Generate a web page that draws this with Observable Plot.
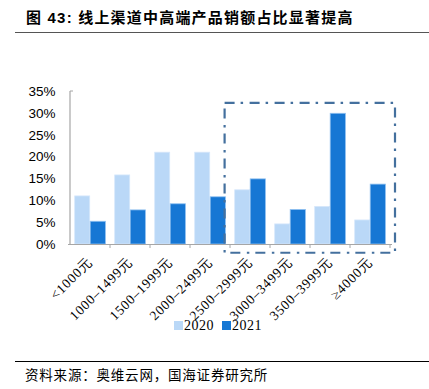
<!DOCTYPE html>
<html><head><meta charset="utf-8">
<script src="https://cdn.jsdelivr.net/npm/d3@7"></script>
<script src="https://cdn.jsdelivr.net/npm/@observablehq/plot@0.6"></script>
<style>
html,body{margin:0;padding:0;background:#fff;}
#wrap{position:relative;width:429px;height:389px;overflow:hidden;}
.abs{position:absolute;white-space:nowrap;}
</style></head>
<body><div id="wrap"></div>
<script>
const title = "图 43：线上渠道中高端产品销额占比显著提高";
const source = "资料来源：奥维云网，国海证券研究所";
const categories = ["<1000元","1000–1499元","1500–1999元","2000–2499元","2500–2999元","3000–3499元","3500–3999元","≥4000元"];
const series = ["2020","2021"];
const values2020 = [0.110, 0.158, 0.210, 0.210, 0.124, 0.046, 0.086, 0.055];
const values2021 = [0.052, 0.078, 0.092, 0.108, 0.149, 0.079, 0.299, 0.137];
const yTicks = [0, 0.05, 0.10, 0.15, 0.20, 0.25, 0.30, 0.35];
const highlightCats = ["2500–2999元", "≥4000元"];
const highlightRange = [-0.02, 0.323];

const lightC = "#bad8f7", darkC = "#1677d4", boxC = "#44709e";
const d20 = categories.map((c,i)=>({cat:c, v:values2020[i]}));
const d21 = categories.map((c,i)=>({cat:c, v:values2021[i]}));

const W = 429, H = 389;
const plot = Plot.plot({
  width: W, height: H,
  marginLeft: 68, marginRight: 37, marginTop: 91, marginBottom: 145,
  style: {background: "transparent", overflow: "visible"},
  x: {domain: categories, padding: 0, axis: null},
  y: {domain: [0, 0.35], axis: null},
  marks: [
    Plot.axisY({ticks: yTicks, tickFormat: d => Math.round(d*100) + "%", tickSize: 0, tickPadding: 13, label: null,
      fontSize: 13.5, fontFamily: "Liberation Sans, Arial, sans-serif", fill: "#000"}),
    Plot.axisX({tickSize: 0, tickRotate: -45, tickPadding: 15, fontSize: 13.5, label: null, letterSpacing: "0.8px",
      fontFamily: "Liberation Serif, Times New Roman, serif", fill: "#000"}),
    Plot.barY(d20, {x: "cat", y: "v", fill: lightC, stroke: "#d6e7fb", strokeWidth: 0.8, insetLeft: 4.7, insetRight: 20.3}),
    Plot.barY(d21, {x: "cat", y: "v", fill: darkC, stroke: "#8fc0f0", strokeWidth: 0.8, insetLeft: 20.2, insetRight: 4.6}),
    Plot.ruleY([0], {stroke: "#a6a6a6", strokeWidth: 1.2})
  ]
});
const wrap = document.getElementById("wrap");
wrap.appendChild(plot);
plot.style.position = "absolute"; plot.style.left = "0"; plot.style.top = "0";
d3.select(plot).selectAll("[aria-label='x-axis tick label'] text, [aria-label='x-axis tick label']").style("letter-spacing", "0.8px");

// extras derived from library scales
const sx = plot.scale("x"), sy = plot.scale("y");
const bw = sx.bandwidth;
const svg = d3.select(plot);
const g = svg.append("g");
const x0 = sx.apply(categories[0]);
g.append("line").attr("x1", x0).attr("x2", x0).attr("y1", sy.apply(0)).attr("y2", sy.apply(0.35))
  .attr("stroke", "#a6a6a6").attr("stroke-width", 1.2);
g.append("line").attr("x1", x0).attr("x2", x0 + 3).attr("y1", sy.apply(0.35)).attr("y2", sy.apply(0.35))
  .attr("stroke", "#a6a6a6").attr("stroke-width", 1);
categories.forEach(c => {
  const xb = sx.apply(c) + bw;
  g.append("line").attr("x1", xb).attr("x2", xb).attr("y1", sy.apply(0)).attr("y2", sy.apply(0) + 4)
    .attr("stroke", "#a6a6a6").attr("stroke-width", 1);
});
const bx1 = sx.apply(highlightCats[0]) - 5.4, bx2 = sx.apply(highlightCats[1]) + bw + 5;
const by1 = sy.apply(highlightRange[1]), by2 = sy.apply(highlightRange[0]);
g.append("rect").attr("x", bx1).attr("y", by1).attr("width", bx2 - bx1).attr("height", by2 - by1)
  .attr("fill", "none").attr("stroke", boxC).attr("stroke-width", 2.2)
  .attr("stroke-dasharray", "10,6,2.5,6.5");

function addDiv(html, css){ const d = document.createElement("div"); d.className = "abs"; d.innerHTML = html; Object.assign(d.style, css); wrap.appendChild(d); return d; }
addDiv(title.replace("：", ": "), {left: "26px", top: "6px", fontSize: "15px", fontWeight: "bold", letterSpacing: "1.2px",
  fontFamily: "Liberation Sans, 'Noto Sans CJK SC', sans-serif", color: "#000"});
addDiv("", {left: "15px", top: "32px", width: "414px", height: "0", borderTop: "1.5px solid #555"});
const legend = addDiv("", {left: "174px", top: "318px", fontSize: "14px", letterSpacing: "0.5px", fontFamily: "Liberation Serif, 'Times New Roman', serif", color: "#000"});
series.forEach((s, i) => {
  const sp = document.createElement("span");
  sp.style.marginRight = i === 0 ? "8px" : "0";
  sp.innerHTML = `<span style="display:inline-block;width:9px;height:9px;background:${i===0?lightC:darkC};margin-right:1px;vertical-align:0px"></span>${s}`;
  legend.appendChild(sp);
});
addDiv("", {left: "15px", top: "361px", width: "414px", height: "0", borderTop: "1px solid #000"});
addDiv(source, {left: "25px", top: "364px", fontSize: "13.5px", letterSpacing: "0.8px",
  fontFamily: "'Noto Sans CJK SC', sans-serif", color: "#000"});
</script></body></html>
